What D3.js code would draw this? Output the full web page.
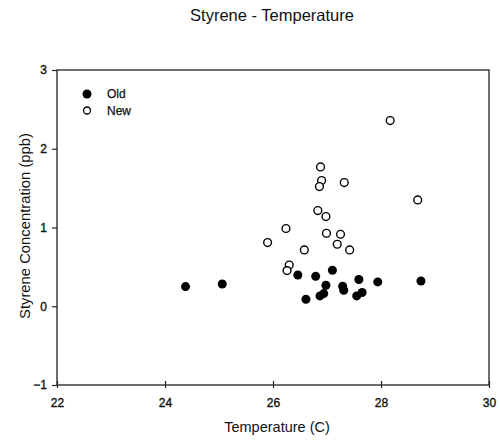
<!DOCTYPE html>
<html>
<head>
<meta charset="utf-8">
<script src="https://cdn.jsdelivr.net/npm/d3@7"></script>
<style>
  html, body { margin: 0; padding: 0; background: #fff; }
  text { font-family: "Liberation Sans", Arial, sans-serif; fill: #111; }
</style>
</head>
<body>
<svg id="chart" width="500" height="440"></svg>
<script>
// Data
const oldTemp = [24.38, 25.06, 26.46, 26.79, 27.10, 26.61, 26.98, 26.94, 26.87, 27.29, 27.31, 27.59, 27.55, 27.65, 27.94, 28.74];
const oldConc = [0.25, 0.283, 0.397, 0.38, 0.457, 0.089, 0.267, 0.161, 0.131, 0.254, 0.203, 0.339, 0.131, 0.174, 0.309, 0.321];
const newTemp = [28.17, 26.88, 26.90, 26.86, 27.32, 28.68, 26.83, 26.98, 26.24, 26.99, 27.25, 25.90, 27.19, 26.58, 27.42, 26.30, 26.26];
const newConc = [2.358, 1.769, 1.596, 1.52, 1.571, 1.35, 1.215, 1.139, 0.987, 0.927, 0.914, 0.809, 0.787, 0.715, 0.715, 0.524, 0.453];
const xTicks = [22, 24, 26, 28, 30];
const yTicks = [-1, 0, 1, 2, 3];
const seriesNames = ["Old", "New"];

(function () {
const svg = d3.select("#chart");
const mL = 57, mR = 489, mT = 70, mB = 385;
const x = d3.scaleLinear().domain([22, 30]).range([mL, mR]);
const y = d3.scaleLinear().domain([-1, 3]).range([mB, mT]);
const axisColor = "#222";

// Title
svg.append("text").attr("x", 272).attr("y", 21).attr("text-anchor", "middle")
  .style("font-size", "16.5px").text("Styrene - Temperature");

// Frame
svg.append("rect").attr("x", mL).attr("y", mT)
  .attr("width", mR - mL).attr("height", mB - mT)
  .attr("fill", "none").attr("stroke", axisColor).attr("stroke-width", 1.3);

// X axis
const xAxis = svg.append("g").attr("transform", `translate(0,${mB})`)
  .call(d3.axisBottom(x).tickValues(xTicks).tickSize(3).tickPadding(10).tickFormat(d3.format("d")));
xAxis.select(".domain").remove();
xAxis.selectAll(".tick line").attr("y1", -4).attr("y2", 3).attr("stroke", axisColor).attr("stroke-width", 1.2);
xAxis.selectAll(".tick text").style("font-size", "12px").style("font-family", "Liberation Sans, Arial, sans-serif")
  .attr("fill", "#111").attr("stroke", "#111").attr("stroke-width", 0.35);

// Y axis
const yAxis = svg.append("g").attr("transform", `translate(${mL},0)`)
  .call(d3.axisLeft(y).tickValues(yTicks).tickSize(5).tickPadding(5).tickFormat(d3.format("d")));
yAxis.select(".domain").remove();
yAxis.selectAll(".tick line").attr("stroke", axisColor).attr("stroke-width", 1.2);
yAxis.selectAll(".tick text").style("font-size", "12px").style("font-family", "Liberation Sans, Arial, sans-serif")
  .attr("fill", "#111").attr("stroke", "#111").attr("stroke-width", 0.35);

// Axis titles
svg.append("text").attr("x", 277).attr("y", 432).attr("text-anchor", "middle")
  .style("font-size", "14.5px").text("Temperature (C)");
svg.append("text").attr("transform", "translate(30,226) rotate(-90)").attr("text-anchor", "middle")
  .style("font-size", "14.8px").text("Styrene Concentration (ppb)");

// Points
const r = 4.5;
svg.append("g").selectAll("circle").data(d3.range(oldTemp.length)).join("circle")
  .attr("cx", i => x(oldTemp[i])).attr("cy", i => y(oldConc[i])).attr("r", r)
  .attr("fill", "#000");
svg.append("g").selectAll("circle").data(d3.range(newTemp.length)).join("circle")
  .attr("cx", i => x(newTemp[i])).attr("cy", i => y(newConc[i])).attr("r", r - 0.6)
  .attr("fill", "#fff").attr("stroke", "#000").attr("stroke-width", 1.4);

// Legend
const lg = svg.append("g");
seriesNames.forEach((name, i) => {
  const cy = 94 + i * 16.5;
  if (i === 0) {
    lg.append("circle").attr("cx", 87).attr("cy", cy).attr("r", r).attr("fill", "#000");
  } else {
    lg.append("circle").attr("cx", 87).attr("cy", cy).attr("r", r - 1).attr("fill", "#fff")
      .attr("stroke", "#000").attr("stroke-width", 1.3);
  }
  lg.append("text").attr("x", 107).attr("y", cy + 4.3).style("font-size", "12px")
    .attr("stroke", "#111").attr("stroke-width", 0.25).text(name);
});
})();
</script>
</body>
</html>
